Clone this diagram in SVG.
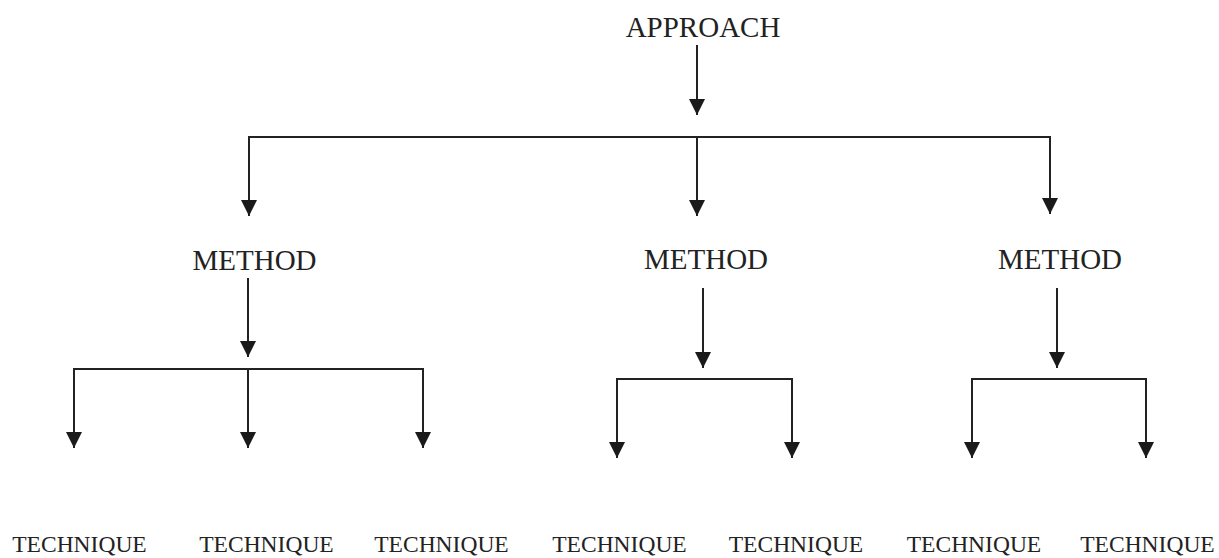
<svg xmlns="http://www.w3.org/2000/svg" width="1219" height="558" viewBox="0 0 1219 558">
  <style>
    .lbl { font-family: "Liberation Serif", "Times New Roman", serif; fill: #222; text-anchor: middle; }
    .big { font-size: 29px; }
    .small { font-size: 23.5px; }
    .ln { stroke: #222; stroke-width: 2; fill: none; }
  </style>
  <defs>
    <marker id="ah" markerUnits="userSpaceOnUse" markerWidth="16" markerHeight="16" viewBox="0 0 15 15" refX="15" refY="7.5" orient="auto">
      <path d="M0,0 L15,7.5 L0,15 Z" fill="#1a1a1a"/>
    </marker>
  </defs>
  <rect width="1219" height="558" fill="#ffffff"/>

  <g id="approach"><text class="lbl big" x="703" y="37">APPROACH</text></g>
  <g id="method1"><text class="lbl big" x="254.5" y="270">METHOD</text></g>
  <g id="method2"><text class="lbl big" x="706" y="269">METHOD</text></g>
  <g id="method3"><text class="lbl big" x="1060" y="269">METHOD</text></g>
  <g id="tech1"><text class="lbl small" x="79.5" y="552">TECHNIQUE</text></g>
  <g id="tech2"><text class="lbl small" x="266.5" y="552">TECHNIQUE</text></g>
  <g id="tech3"><text class="lbl small" x="441.5" y="552">TECHNIQUE</text></g>
  <g id="tech4"><text class="lbl small" x="619.5" y="552">TECHNIQUE</text></g>
  <g id="tech5"><text class="lbl small" x="796" y="552">TECHNIQUE</text></g>
  <g id="tech6"><text class="lbl small" x="974" y="552">TECHNIQUE</text></g>
  <g id="tech7"><text class="lbl small" x="1147.5" y="552">TECHNIQUE</text></g>

  <g id="connectors">
    <line class="ln" x1="697" y1="45" x2="697" y2="115" marker-end="url(#ah)"/>
    <path class="ln" d="M249,216 V137 H1050 V214"/>
    <line class="ln" x1="249" y1="200" x2="249" y2="216" marker-end="url(#ah)"/>
    <line class="ln" x1="1050" y1="198" x2="1050" y2="214" marker-end="url(#ah)"/>
    <line class="ln" x1="697" y1="136" x2="697" y2="216" marker-end="url(#ah)"/>

    <line class="ln" x1="248" y1="278" x2="248" y2="357" marker-end="url(#ah)"/>
    <path class="ln" d="M74,448 V369 H423 V448"/>
    <line class="ln" x1="74" y1="430" x2="74" y2="448" marker-end="url(#ah)"/>
    <line class="ln" x1="423" y1="430" x2="423" y2="448" marker-end="url(#ah)"/>
    <line class="ln" x1="248" y1="369" x2="248" y2="448" marker-end="url(#ah)"/>

    <line class="ln" x1="703" y1="288" x2="703" y2="368" marker-end="url(#ah)"/>
    <path class="ln" d="M617,458 V379 H792 V458"/>
    <line class="ln" x1="617" y1="440" x2="617" y2="458" marker-end="url(#ah)"/>
    <line class="ln" x1="792" y1="440" x2="792" y2="458" marker-end="url(#ah)"/>

    <line class="ln" x1="1057" y1="288" x2="1057" y2="368" marker-end="url(#ah)"/>
    <path class="ln" d="M972,458 V379 H1146 V458"/>
    <line class="ln" x1="972" y1="440" x2="972" y2="458" marker-end="url(#ah)"/>
    <line class="ln" x1="1146" y1="440" x2="1146" y2="458" marker-end="url(#ah)"/>
  </g>
</svg>
